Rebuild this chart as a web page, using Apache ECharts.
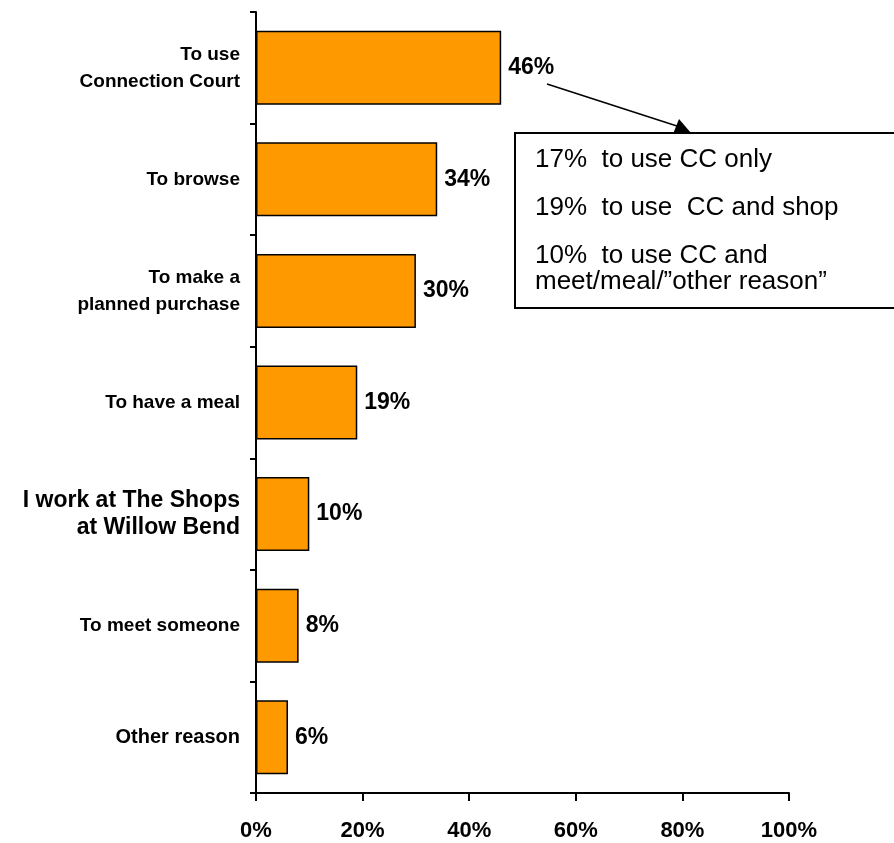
<!DOCTYPE html>
<html>
<head>
<meta charset="utf-8">
<script src="https://cdn.jsdelivr.net/npm/echarts@6/dist/echarts.min.js"></script>
<style>
  html, body { margin: 0; padding: 0; background: #fff; }
  #chart { width: 894px; height: 843px; }
</style>
</head>
<body>
<div id="chart"></div>
<script>
const categories = [
  'To use\nConnection Court',
  'To browse',
  'To make a\nplanned purchase',
  'To have a meal',
  'I work at The Shops\nat Willow Bend',
  'To meet someone',
  'Other reason'
]
const values = [46, 34, 30, 19, 10, 8, 6]
const noteLines = [
  '17%  to use CC only',
  '19%  to use  CC and shop',
  '10%  to use CC and\nmeet/meal/\u201dother reason\u201d'
]

const chart = echarts.init(document.getElementById('chart'))
const font = 'Liberation Sans, Arial, sans-serif'

// the original sets a few labels bigger than the rest
const labelTag = (name, i) => (i === 4 ? 'big' : i === 6 ? 'mid' : 'n')

chart.setOption({
  animation: false,
  grid: { left: 256, right: 105, top: 12, bottom: 50 },
  xAxis: {
    type: 'value',
    min: 0,
    max: 100,
    interval: 20,
    splitLine: { show: false },
    axisLine: { show: true, lineStyle: { color: '#000', width: 2 } },
    axisTick: { show: true, length: 8, lineStyle: { color: '#000', width: 2 } },
    axisLabel: {
      formatter: '{value}%',
      color: '#000',
      fontFamily: font,
      fontWeight: 'bold',
      fontSize: 22,
      margin: 27
    }
  },
  yAxis: {
    type: 'category',
    data: categories,
    inverse: true,
    axisLine: { show: true, lineStyle: { color: '#000', width: 2 } },
    axisTick: { show: true, length: 6, lineStyle: { color: '#000', width: 2 } },
    axisLabel: {
      align: 'right',
      margin: 16,
      formatter: (name, i) => {
        const t = labelTag(name, i)
        return name.split('\n').map((s) => '{' + t + '|' + s + '}').join('\n')
      },
      rich: {
        n: { color: '#000', fontFamily: font, fontWeight: 'bold', fontSize: 19, lineHeight: 27, align: 'right' },
        mid: { color: '#000', fontFamily: font, fontWeight: 'bold', fontSize: 20, lineHeight: 27, align: 'right' },
        big: { color: '#000', fontFamily: font, fontWeight: 'bold', fontSize: 23, lineHeight: 27, align: 'right' }
      }
    }
  },
  series: [
    {
      type: 'bar',
      data: values,
      barWidth: 74,
      itemStyle: { color: '#FF9900', borderColor: '#000', borderWidth: 1.5 },
      label: {
        show: true,
        position: 'right',
        distance: 7,
        formatter: '{c}%',
        color: '#000',
        fontFamily: font,
        fontWeight: 'bold',
        fontSize: 23
      }
    }
  ],
  graphic: [
    {
      type: 'line',
      shape: { x1: 547, y1: 84, x2: 680, y2: 127 },
      style: { stroke: '#000', lineWidth: 1.5 }
    },
    {
      type: 'polygon',
      shape: { points: [[691, 133], [673, 134], [679, 119]] },
      style: { fill: '#000' }
    },
    {
      type: 'rect',
      shape: { x: 515, y: 133, width: 400, height: 175 },
      style: { fill: '#fff', stroke: '#000', lineWidth: 2 }
    },
    {
      type: 'text',
      x: 535,
      y: 160,
      style: { text: noteLines[0], font: '26px ' + font, fill: '#000', verticalAlign: 'middle' }
    },
    {
      type: 'text',
      x: 535,
      y: 208,
      style: { text: noteLines[1], font: '26px ' + font, fill: '#000', verticalAlign: 'middle' }
    },
    {
      type: 'text',
      x: 535,
      y: 269,
      style: { text: noteLines[2], font: '26px ' + font, fill: '#000', lineHeight: 26, verticalAlign: 'middle' }
    }
  ]
})
</script>
</body>
</html>
